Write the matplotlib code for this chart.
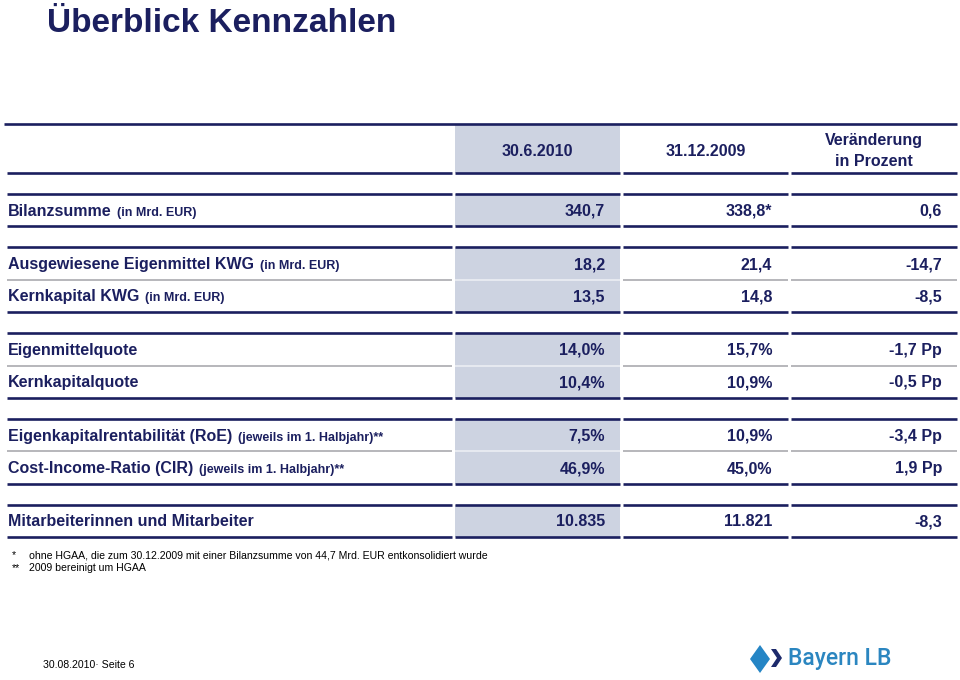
import matplotlib.pyplot as plt
from matplotlib.patches import Rectangle, Polygon

# table content
col_titles = ["30.6.2010", "31.12.2009", "Veränderung\nin Prozent"]
labels = ["Bilanzsumme", "Ausgewiesene Eigenmittel KWG", "Kernkapital KWG",
          "Eigenmittelquote", "Kernkapitalquote",
          "Eigenkapitalrentabilität (RoE)", "Cost-Income-Ratio (CIR)",
          "Mitarbeiterinnen und Mitarbeiter"]
label_notes = ["(in Mrd. EUR)", "(in Mrd. EUR)", "(in Mrd. EUR)", "", "",
               "(jeweils im 1. Halbjahr)**", "(jeweils im 1. Halbjahr)**", ""]
val_2010 = ["340,7", "18,2", "13,5", "14,0%", "10,4%", "7,5%", "46,9%", "10.835"]
val_2009 = ["338,8*", "21,4", "14,8", "15,7%", "10,9%", "10,9%", "45,0%", "11.821"]
val_change = ["0,6", "-14,7", "-8,5", "-1,7 Pp", "-0,5 Pp", "-3,4 Pp", "1,9 Pp", "-8,3"]
group_sizes = [1, 2, 2, 2, 1]
footnotes = [("*", "ohne HGAA, die zum 30.12.2009 mit einer Bilanzsumme von 44,7 Mrd. EUR entkonsolidiert wurde"),
             ("**", "2009 bereinigt um HGAA")]

navy = "#1b1f5f"
shade = "#cdd3e1"
grey = "#a3a3a8"
font = "Liberation Sans"

fig = plt.figure(figsize=(9.6, 6.8), dpi=100)
ax = fig.add_axes([0, 0, 1, 1])
ax.set_xlim(0, 960)
ax.set_ylim(680, 0)
ax.axis("off")

ax.text(47, 24, "Überblick Kennzahlen", fontsize=24, fontweight="bold",
        color=navy, family=font, va="center", ha="left")

# column spans (label, 2010, 2009, change)
cols = [(7, 452), (455, 620), (623, 788), (791, 957)]
right_edges = [605, 772, 942]
lw_main = 1.9

# header
head_top, head_bot = 124, 173
ax.plot([4, 957], [head_top, head_top], color=navy, lw=lw_main, solid_capstyle="butt")
ax.add_patch(Rectangle((cols[1][0], head_top), cols[1][1] - cols[1][0],
                       head_bot - head_top, color=shade, lw=0))
for (x0, x1) in cols:
    ax.plot([x0, x1], [head_bot, head_bot], color=navy, lw=lw_main, solid_capstyle="butt")
for i, t in enumerate(col_titles):
    xc = (cols[i + 1][0] + cols[i + 1][1]) / 2
    ax.text(xc, 151, t, fontsize=11.5, fontweight="bold", color=navy, family=font,
            ha="center", va="center", linespacing=1.45)

# body rows
row_h = 32.4
gap = 21
y = head_bot + gap
k = 0
for n in group_sizes:
    g_top = y
    g_bot = y + n * row_h
    ax.add_patch(Rectangle((cols[1][0], g_top), cols[1][1] - cols[1][0],
                           g_bot - g_top, color=shade, lw=0))
    for (x0, x1) in cols:
        ax.plot([x0, x1], [g_top, g_top], color=navy, lw=lw_main, solid_capstyle="butt")
        ax.plot([x0, x1], [g_bot, g_bot], color=navy, lw=lw_main, solid_capstyle="butt")
    for j in range(n):
        r_top = y + j * row_h
        yc = r_top + row_h / 2 + 1
        if j > 0:
            for ci, (x0, x1) in enumerate(cols):
                ax.plot([x0, x1], [r_top, r_top], color="#eef0f5" if ci == 1 else grey,
                        lw=1.1, solid_capstyle="butt")
        t = ax.text(8, yc, labels[k], fontsize=11.5, fontweight="bold", color=navy,
                    family=font, ha="left", va="center")
        if label_notes[k]:
            ax.annotate(label_notes[k], xy=(1, 0), xycoords=t, xytext=(4, 0),
                        textcoords="offset points", fontsize=9, fontweight="bold",
                        color=navy, family=font, ha="left", va="bottom")
        for xr, v in zip(right_edges, [val_2010[k], val_2009[k], val_change[k]]):
            ax.text(xr, yc, v, fontsize=11.5, fontweight="bold", color=navy,
                    family=font, ha="right", va="center")
        k += 1
    y = g_bot + gap

# footnotes
for i, (mark, txt) in enumerate(footnotes):
    yy = 555 + i * 13
    ax.text(12, yy, mark, fontsize=7.6, color="black", family=font, va="center")
    ax.text(29, yy, txt, fontsize=7.6, color="black", family=font, va="center")

ax.text(43, 665, "30.08.2010· Seite 6", fontsize=7.6, color="black", family=font, va="center")

# logo
ax.add_patch(Polygon([(760, 645), (770, 659), (760, 673), (750, 659)], closed=True,
                     color="#2585c5", lw=0))
ax.add_patch(Polygon([(771, 649), (776, 649), (782, 658), (776, 667), (771, 667), (777, 658)],
                     closed=True, color="#1d2a6b", lw=0))
ax.text(788, 659, "Bayern LB", fontsize=16.5, fontweight="medium", color="#2b86c0",
        family="Roboto", ha="left", va="center")

fig.savefig("out.png", dpi=100)
